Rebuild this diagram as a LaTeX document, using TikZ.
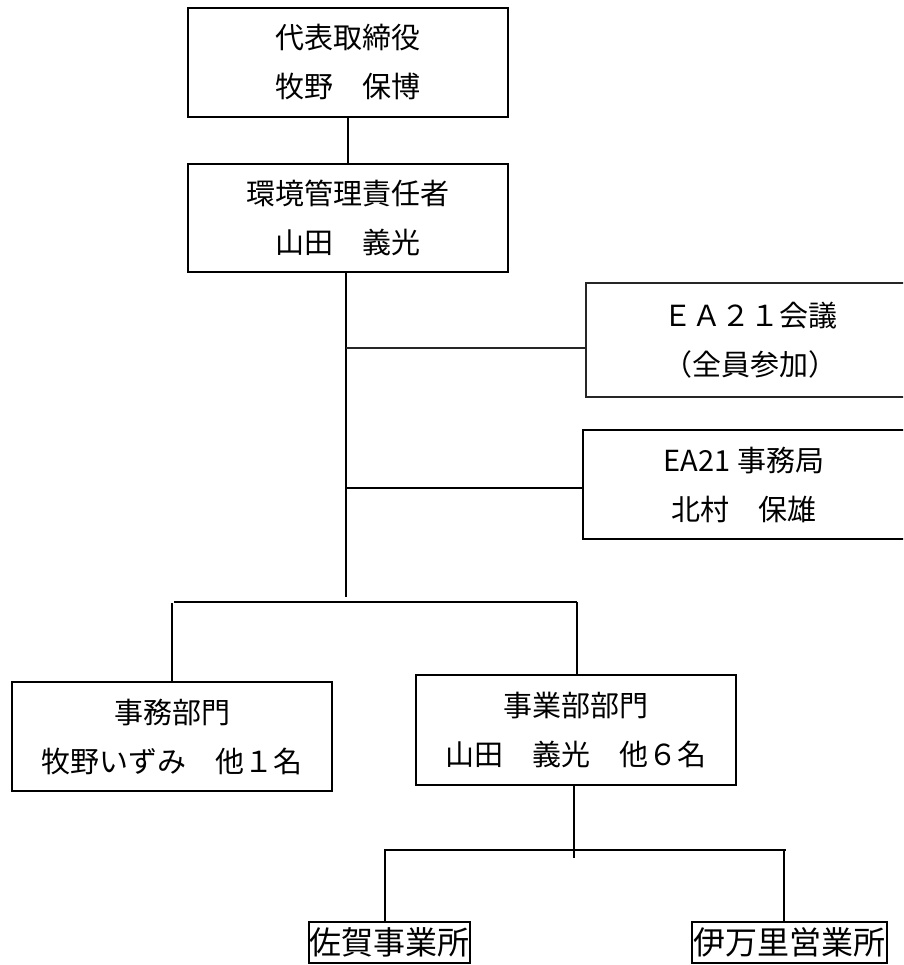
\documentclass[tikz,border=0pt]{standalone}
\usepackage{fontspec}
\setmainfont{Noto Sans CJK JP}
\tikzset{
  orgbox/.style={draw=black, line width=2pt, inner sep=0pt, align=center,
    font=\fontsize{29pt}{49pt}\selectfont},
  thinbox/.style={orgbox, line width=1.3pt, draw=black!85},
  sitebox/.style={draw=black, line width=2pt, inner sep=0pt, align=center,
    font=\fontsize{32pt}{36pt}\selectfont},
  link/.style={line width=2pt, draw=black},
  thinlink/.style={line width=1.3pt, draw=black!85}
}
\begin{document}
\begin{tikzpicture}[x=1pt,y=-1pt]
\useasboundingbox (0,0) rectangle (903,965);
\clip (0,0) rectangle (903,965);
\fill[white] (0,0) rectangle (903,965);

\node[orgbox, minimum width=320pt, minimum height=109pt] (ceo) at (348,62.5)
  {代表取締役\\牧野　保博};
\node[orgbox, minimum width=320pt, minimum height=108pt] (env) at (348,218)
  {環境管理責任者\\山田　義光};
\node[thinbox, minimum width=329pt, minimum height=114pt] (mtg) at (750.5,340)
  {ＥＡ２１会議\\（全員参加）};
\node[orgbox, minimum width=322pt, minimum height=109pt] (sec) at (744,484.5)
  {EA21 事務局\\北村　保雄};
\node[orgbox, minimum width=320pt, minimum height=109pt] (adm) at (172,736.5)
  {事務部門\\牧野いずみ　他１名};
\node[orgbox, minimum width=320pt, minimum height=110pt] (biz) at (576,730)
  {事業部部門\\山田　義光　他６名};
\node[sitebox, minimum width=161pt, minimum height=41pt] (saga) at (389.5,942.5)
  {佐賀事業所};
\node[sitebox, minimum width=195pt, minimum height=41pt] (imari) at (789.5,942.5)
  {伊万里営業所};

\coordinate (tb) at (346,597);
\coordinate (jm) at (346,348);
\coordinate (js) at (346,488);
\coordinate (bl) at (174,602);
\coordinate (br) at (577,602);
\coordinate (dl) at (172,603);
\coordinate (fb) at (574,858);
\coordinate (sl) at (384,850);
\coordinate (sr) at (786,850);
\coordinate (sdl) at (385,851);
\coordinate (sdr) at (784,851);

\draw[link] (ceo.south) -- (env.south |- ceo.south) -- (env.north);
\draw[link] (env.south -| tb) -- (tb);
\draw[thinlink] (jm) -- (jm -| mtg.west);
\draw[link] (js) -- (js -| sec.west);
\draw[link] (bl) -- (br);
\draw[link] (dl) -- (adm.north);
\draw[link] (br) -- (br |- biz.north);
\draw[link] (biz.south -| fb) -- (fb);
\draw[link] (sl) -- (sr);
\draw[link] (sdl) -- (sdl |- saga.north);
\draw[link] (sdr) -- (sdr |- imari.north);
\end{tikzpicture}
\end{document}
